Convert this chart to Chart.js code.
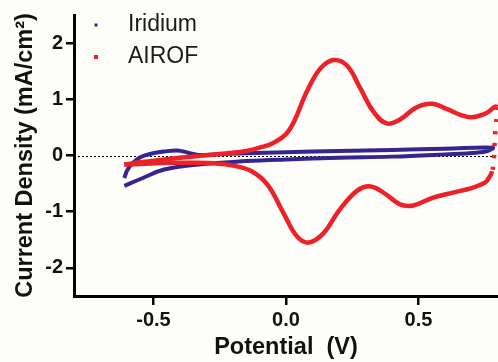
<!DOCTYPE html>
<html>
<head>
<meta charset="utf-8">
<script src="https://cdn.jsdelivr.net/npm/chart.js@4"></script>
<style>
  html, body { margin: 0; padding: 0; background: #fdfdf9; }
  #wrap { width: 498px; height: 362px; }
</style>
</head>
<body>
<div id="wrap"><canvas id="cvChart" width="498" height="362"></canvas></div>
<script>
// Cyclic voltammetry, sweep order kept (anodic branch then cathodic branch)
const iridiumX = [-0.61, -0.60, -0.58, -0.55, -0.51, -0.46, -0.41, -0.37, -0.33, -0.27, -0.15, 0.0, 0.2, 0.4, 0.6, 0.78,
                  0.76, 0.72, 0.6, 0.4, 0.2, 0.0, -0.15, -0.33, -0.46, -0.54, -0.61];
const iridiumY = [-0.40, -0.27, -0.14, -0.03, 0.03, 0.07, 0.09, 0.05, 0.01, 0.02, 0.04, 0.06, 0.08, 0.10, 0.12, 0.14,
                  0.08, 0.05, 0.02, -0.02, -0.04, -0.07, -0.10, -0.16, -0.25, -0.40, -0.54];

const airofX = [-0.61, -0.55, -0.46, -0.38, -0.31, -0.22, -0.15, -0.10, -0.05, 0.0, 0.03, 0.08, 0.13, 0.18, 0.23, 0.28,
                0.33, 0.38, 0.43, 0.49, 0.55, 0.61, 0.66, 0.70, 0.75, 0.795,
                0.79, 0.787, 0.785, 0.778, 0.76, 0.745, 0.70, 0.63, 0.555, 0.48, 0.43, 0.38, 0.32, 0.27, 0.20,
                0.14, 0.085, 0.04, -0.01, -0.07, -0.13, -0.20, -0.27, -0.35, -0.45, -0.55, -0.61];
const airofY = [-0.16, -0.12, -0.07, -0.03, 0.0, 0.04, 0.08, 0.14, 0.22, 0.38, 0.60, 1.15, 1.55, 1.70, 1.60, 1.20,
                0.78, 0.57, 0.64, 0.85, 0.92, 0.82, 0.72, 0.68, 0.74, 0.86,
                0.45, 0.20, -0.02, -0.28, -0.44, -0.50, -0.58, -0.66, -0.75, -0.89, -0.87, -0.70, -0.55, -0.62, -0.98,
                -1.39, -1.55, -1.43, -1.02, -0.52, -0.28, -0.18, -0.14, -0.13, -0.13, -0.15, -0.16];

const xTicks = [-0.5, 0.0, 0.5];
const yTicks = [-2, -1, 0, 1, 2];

const toPoints = (xs, ys) => xs.map((x, i) => ({ x: x, y: ys[i] }));

const BLUE = '#35268f';
const RED = '#ec2228';

// dotted line at zero current
const zeroLine = {
    id: 'zeroLine',
    beforeDatasetsDraw(chart) {
        const { ctx, chartArea, scales } = chart;
        const y = Math.round(scales.y.getPixelForValue(0)) + 0.5;
        ctx.save();
        ctx.strokeStyle = '#000';
        ctx.lineWidth = 1;
        ctx.setLineDash([2, 2]);
        ctx.beginPath();
        ctx.moveTo(chartArea.left, y);
        ctx.lineTo(chartArea.right, y);
        ctx.stroke();
        ctx.restore();
    }
};

// legend drawn inside the plot, top left
const innerLegend = {
    id: 'innerLegend',
    afterDraw(chart) {
        const { ctx } = chart;
        const rows = [
            { ds: chart.data.datasets[0], y: 25, size: 3 },
            { ds: chart.data.datasets[1], y: 57, size: 4 }
        ];
        ctx.save();
        ctx.font = '23px "Liberation Sans", Arial, sans-serif';
        ctx.textBaseline = 'middle';
        rows.forEach(r => {
            ctx.fillStyle = r.ds.borderColor;
            ctx.fillRect(96 - r.size / 2, r.y - r.size / 2, r.size, r.size);
            ctx.fillStyle = '#1b1b1b';
            ctx.fillText(r.ds.label, 128, r.y);
        });
        ctx.restore();
    }
};

const tickFont = { family: '"Liberation Sans", Arial, sans-serif', size: 20, weight: 'bold' };
const titleFont = { family: '"Liberation Sans", Arial, sans-serif', size: 23.5, weight: 'bold' };

const ctx = document.getElementById('cvChart').getContext('2d');
new Chart(ctx, {
    type: 'scatter',
    data: {
        datasets: [
            {
                label: 'Iridium',
                data: toPoints(iridiumX, iridiumY),
                showLine: true,
                borderColor: BLUE,
                backgroundColor: BLUE,
                borderWidth: 4,
                pointRadius: 0,
                tension: 0.4,
                order: 1
            },
            {
                label: 'AIROF',
                data: toPoints(airofX, airofY),
                showLine: true,
                borderColor: RED,
                backgroundColor: RED,
                borderWidth: 4.5,
                pointRadius: 0,
                tension: 0.4,
                order: 0,
                segment: {
                    // the turnaround at the vertex is only sparse dots
                    borderDash: c => Math.abs(c.p1.y - c.p0.y) > 4 * Math.abs(c.p1.x - c.p0.x) + 6 ? [3, 9] : undefined
                }
            }
        ]
    },
    options: {
        responsive: false,
        animation: false,
        layout: { padding: { top: 12, right: 0, left: 0, bottom: 0 } },
        plugins: {
            legend: { display: false },
            tooltip: { enabled: false }
        },
        scales: {
            x: {
                type: 'linear',
                min: -0.8,
                max: 0.8,
                afterBuildTicks: s => { s.ticks = xTicks.map(v => ({ value: v })); },
                afterFit: s => { s.height = 66; },
                ticks: {
                    color: '#111',
                    font: tickFont,
                    padding: 3,
                    maxRotation: 0,
                    callback: v => v.toFixed(1)
                },
                grid: { display: true, drawOnChartArea: false, drawTicks: true, tickLength: 9, color: '#000', lineWidth: 2.5 },
                border: { display: true, color: '#000', width: 3 },
                title: { display: true, text: 'Potential  (V)', color: '#111', font: titleFont, padding: { top: 0, bottom: 0 } }
            },
            y: {
                type: 'linear',
                min: -2.5,
                max: 2.5,
                afterBuildTicks: s => { s.ticks = yTicks.map(v => ({ value: v })); },
                afterFit: s => { s.width = 74; },
                ticks: {
                    color: '#111',
                    font: tickFont,
                    padding: 3,
                    callback: v => String(v)
                },
                grid: { display: true, drawOnChartArea: false, drawTicks: true, tickLength: 8, color: '#000', lineWidth: 2.5 },
                border: { display: true, color: '#000', width: 3 },
                title: { display: true, text: 'Current Density (mA/cm²)', color: '#111', font: titleFont, padding: { top: 11, bottom: 0 } }
            }
        }
    },
    plugins: [zeroLine, innerLegend]
});
</script>
</body>
</html>
